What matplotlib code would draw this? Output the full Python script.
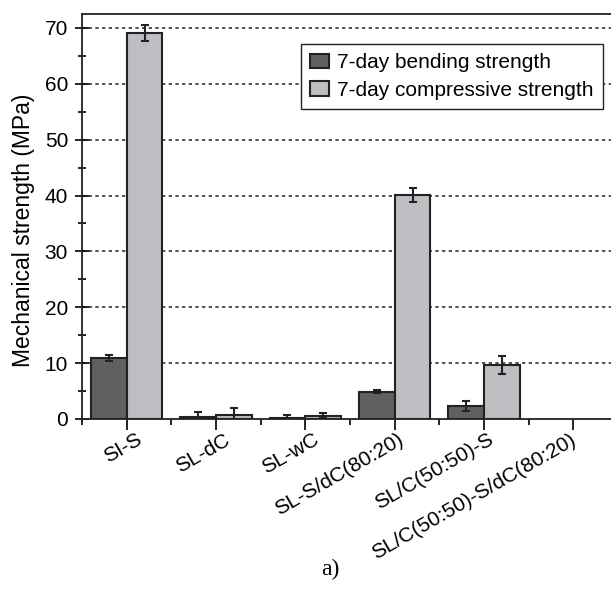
import numpy as np
import matplotlib
matplotlib.use("Agg")
import matplotlib.pyplot as plt
from matplotlib.ticker import MultipleLocator, FixedLocator
from matplotlib.transforms import ScaledTranslation

# datos
categorias = ['SI-S', 'SL-dC', 'SL-wC', 'SL-S/dC(80:20)', 'SL/C(50:50)-S', 'SL/C(50:50)-S/dC(80:20)']
flexion = [10.9, 0.3, 0.2, 4.9, 2.3, 0.0]
flexion_err = [0.6, 1.0, 0.5, 0.3, 0.9, 0.0]
compresion = [69.1, 0.8, 0.6, 40.1, 9.7, 0.0]
compresion_err = [1.4, 1.2, 0.5, 1.2, 1.6, 0.0]
leyenda = ['7-day bending strength', '7-day compressive strength']

plt.rcParams['font.family'] = ['Liberation Sans', 'DejaVu Sans']

fig = plt.figure(figsize=(6.11, 6.03), dpi=100)
ax = fig.add_axes([82/611, 1-419/603, (618-82)/611, (419-14)/603])

x = np.arange(len(categorias))
w = 0.4
ek = dict(ecolor='#222222', elinewidth=1.5, capsize=3, capthick=1.5)
# la ultima categoria no tiene datos, no se dibuja
m1 = np.array(flexion) > 0
m2 = np.array(compresion) > 0
b1 = ax.bar((x - w/2)[m1], np.array(flexion)[m1], w, color='#606060', edgecolor='#222222', linewidth=1.5, zorder=3)
b2 = ax.bar((x + w/2)[m2], np.array(compresion)[m2], w, color='#bdbec2', edgecolor='#222222', linewidth=1.5, zorder=3)
ax.errorbar((x - w/2)[m1], np.array(flexion)[m1], yerr=np.array(flexion_err)[m1], fmt='none', zorder=4, **ek)
ax.errorbar((x + w/2)[m2], np.array(compresion)[m2], yerr=np.array(compresion_err)[m2], fmt='none', zorder=4, **ek)

ax.set_xlim(-0.5, len(categorias) - 0.5)
ax.set_ylim(0, 72.5)
ax.yaxis.set_major_locator(MultipleLocator(10))
ax.yaxis.set_minor_locator(MultipleLocator(5))
ax.set_xticks(x)
ax.xaxis.set_minor_locator(FixedLocator(np.arange(len(categorias) + 1) - 0.5))

# grilla punteada solo en 10..70
for v in range(10, 71, 10):
    ax.axhline(v, color='#333333', lw=1.2, ls=(0, (2, 2)), zorder=1)

for s in ax.spines.values():
    s.set_linewidth(1.3)
    s.set_color('#222222')
ax.spines['right'].set_visible(False)

ax.tick_params(axis='y', which='major', direction='inout', length=10, width=1.2, labelsize=15, pad=5)
ax.tick_params(axis='y', which='minor', direction='inout', length=6, width=1.2)
ax.tick_params(axis='x', which='major', direction='out', length=8, width=1.2, labelsize=15)
ax.tick_params(axis='x', which='minor', direction='out', length=4, width=1.2)

ax.set_xticklabels(categorias, rotation=30, ha='right', rotation_mode='anchor')
# las etiquetas cortas van mas corridas a la derecha que las largas (como en el original)
fig.canvas.draw()
r = fig.canvas.get_renderer()
for lab in ax.get_xticklabels():
    ancho = lab.get_window_extent(r).width
    dx = 13 - 0.08 * ancho
    lab.set_transform(lab.get_transform() + ScaledTranslation(dx/100, 5/100, fig.dpi_scale_trans))

ax.set_ylabel('Mechanical strength (MPa)', fontsize=16.5)
ax.yaxis.set_label_coords((35-82)/536, 1 - (230-14)/405)

leg = ax.legend([b1, b2], leyenda, loc='upper left', bbox_to_anchor=(301/611, 1-44/603),
                bbox_transform=fig.transFigure, fontsize=15, fancybox=False, framealpha=1,
                edgecolor='#222222', handlelength=0.9, handleheight=0.7, handletextpad=0.4,
                borderpad=0.45, labelspacing=0.4, borderaxespad=0)
leg.get_frame().set_linewidth(1.0)

fig.text(330/611, 1-569/603, 'a)', family='Liberation Serif', fontsize=17, ha='center', va='center')

fig.savefig('out.png', dpi=100)
